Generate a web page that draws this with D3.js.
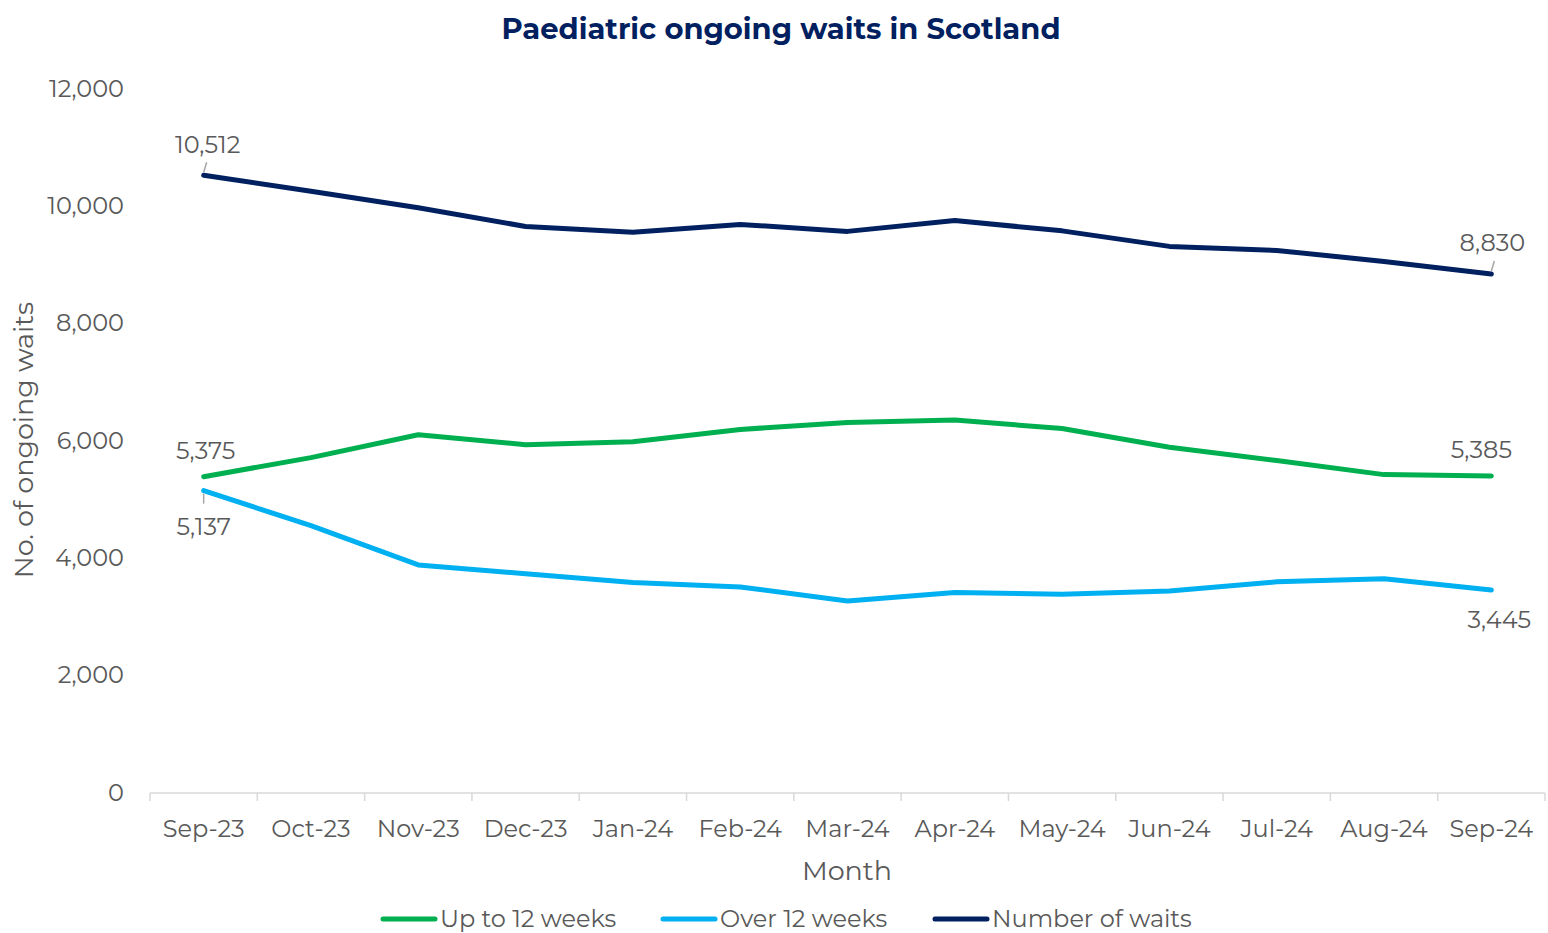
<!DOCTYPE html>
<html>
<head>
<meta charset="utf-8">
<script src="https://cdn.jsdelivr.net/npm/d3@7"></script>
<style>
  body { margin: 0; background: #fff; }
  svg text { font-family: "Montserrat", "Inter", "Noto Sans", sans-serif; fill: #595959; }
</style>
</head>
<body>
<svg id="chart" width="1548" height="933"></svg>
<script>
// Data
var months      = ["Sep-23", "Oct-23", "Nov-23", "Dec-23", "Jan-24", "Feb-24", "Mar-24",
                   "Apr-24", "May-24", "Jun-24", "Jul-24", "Aug-24", "Sep-24"];
var upTo12      = [5375, 5700, 6090, 5920, 5970, 6180, 6300, 6340, 6195, 5875, 5650, 5410, 5385];
var over12      = [5137, 4540, 3870, 3720, 3570, 3495, 3256, 3400, 3370, 3425, 3582, 3634, 3445];
var totalWaits  = [10512, 10240, 9960, 9640, 9540, 9675, 9556, 9740, 9565, 9300, 9232, 9044, 8830];
var yTicks      = [0, 2000, 4000, 6000, 8000, 10000, 12000];

var series = [
    { name: "Up to 12 weeks",  values: upTo12,     color: "#00B050" },
    { name: "Over 12 weeks",   values: over12,     color: "#00B0F0" },
    { name: "Number of waits", values: totalWaits, color: "#002060" }
];

var svg = d3.select("#chart");
var margin = { left: 150, right: 3, top: 88, bottom: 141 };
var width  = 1548, height = 933;

var x = d3.scaleBand().domain(months).range([margin.left, width - margin.right]);
var y = d3.scaleLinear().domain([0, 12000]).range([height - margin.bottom, margin.top]);
var cx = function(i) { return x(months[i]) + x.bandwidth() / 2; };

// Title
svg.append("text")
   .attr("x", 781).attr("y", 39)
   .attr("text-anchor", "middle")
   .style("font-size", "29px").style("font-weight", "700").style("fill", "#002060")
   .text("Paediatric ongoing waits in Scotland");

// Y axis labels (no line)
svg.append("g").selectAll("text")
   .data(yTicks).enter().append("text")
   .attr("x", 124)
   .attr("y", function(d) { return y(d) + 8.5; })
   .attr("text-anchor", "end")
   .style("font-size", "24px")
   .text(function(d) { return d3.format(",")(d); });

// X axis with ticks on band boundaries
var xAxis = svg.append("g").attr("transform", "translate(0," + (y(0) + 1) + ")");
xAxis.append("line")
     .attr("x1", margin.left).attr("x2", width - margin.right)
     .attr("stroke", "#d9d9d9").attr("stroke-width", 1.5);
xAxis.selectAll(".tick")
     .data(months.concat(["end"])).enter().append("line")
     .attr("x1", function(d, i) { return i < months.length ? x(d) : width - margin.right; })
     .attr("x2", function(d, i) { return i < months.length ? x(d) : width - margin.right; })
     .attr("y1", 0).attr("y2", 8)
     .attr("stroke", "#d9d9d9").attr("stroke-width", 1.5);
xAxis.selectAll("text")
     .data(months).enter().append("text")
     .attr("x", function(d) { return x(d) + x.bandwidth() / 2; })
     .attr("y", 44)
     .attr("text-anchor", "middle")
     .style("font-size", "24px")
     .text(function(d) { return d; });

// Axis titles
svg.append("text")
   .attr("x", 847).attr("y", 880)
   .attr("text-anchor", "middle")
   .style("font-size", "27px")
   .text("Month");
svg.append("text")
   .attr("transform", "translate(33,440) rotate(-90)")
   .attr("text-anchor", "middle")
   .style("font-size", "27px")
   .text("No. of ongoing waits");

// Lines
var line = d3.line()
    .x(function(d, i) { return cx(i); })
    .y(function(d) { return y(d); });

svg.append("g").selectAll("path")
   .data(series).enter().append("path")
   .attr("d", function(d) { return line(d.values); })
   .attr("fill", "none")
   .attr("stroke", function(d) { return d.color; })
   .attr("stroke-width", 5)
   .attr("stroke-linecap", "round")
   .attr("stroke-linejoin", "round");

// Data labels at first and last points
var last = months.length - 1;
var labels = [
    { v: totalWaits[0],    i: 0,    dx: 4,   dy: -22, leader: true },
    { v: upTo12[0],        i: 0,    dx: 2,   dy: -18, leader: false },
    { v: over12[0],        i: 0,    dx: 0,   dy: 44,  leader: true },
    { v: totalWaits[last], i: last, dx: 1,   dy: -23, leader: true },
    { v: upTo12[last],     i: last, dx: -10, dy: -18, leader: false },
    { v: over12[last],     i: last, dx: 8,   dy: 38,  leader: false }
];

var lab = svg.append("g").selectAll("g").data(labels).enter().append("g");
lab.filter(function(d) { return d.leader; }).append("line")
   .attr("x1", function(d) { return cx(d.i); })
   .attr("y1", function(d) { return y(d.v) + (d.dy < 0 ? -3 : 3); })
   .attr("x2", function(d) { return cx(d.i) + (d.dy < 0 ? 3 : 0); })
   .attr("y2", function(d) { return y(d.v) + (d.dy < 0 ? -13 : 13); })
   .attr("stroke", "#a6a6a6").attr("stroke-width", 1.5);
lab.append("text")
   .attr("x", function(d) { return cx(d.i) + d.dx; })
   .attr("y", function(d) { return y(d.v) + d.dy; })
   .attr("text-anchor", "middle")
   .style("font-size", "24px")
   .text(function(d) { return d3.format(",")(d.v); });

// Legend
var legendX = [381, 661, 933];
var leg = svg.append("g").selectAll("g")
   .data(series).enter().append("g")
   .attr("transform", function(d, i) { return "translate(" + legendX[i] + ",919)"; });
leg.append("line")
   .attr("x1", 2).attr("x2", 54)
   .attr("stroke", function(d) { return d.color; })
   .attr("stroke-width", 5).attr("stroke-linecap", "round");
leg.append("text")
   .attr("x", 59).attr("y", 8)
   .style("font-size", "24px")
   .text(function(d) { return d.name; });
</script>
</body>
</html>
